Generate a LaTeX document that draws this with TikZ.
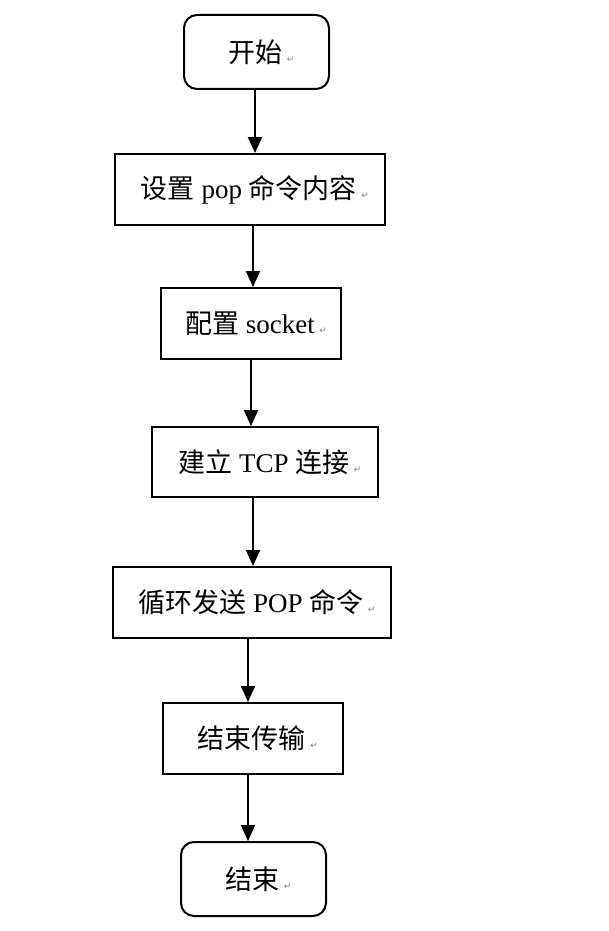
\documentclass[tikz,border=0pt]{standalone}
\usepackage{fontspec}
\setmainfont{Liberation Serif}
\newfontfamily\cjk{Noto Sans CJK SC}
\newfontfamily\markfont{DejaVu Sans}
\usetikzlibrary{arrows.meta}
\newcommand{\parmark}{\,{\markfont\fontsize{9}{9}\selectfont\color{gray}↵}}

\tikzset{
  flowbox/.style={draw,line width=2pt,inner sep=0pt,font=\fontsize{27}{27}\selectfont,
    execute at begin node={\hspace{10pt}}},
  endbox/.style={flowbox,rounded corners=13pt},
  flowarrow/.style={line width=2pt,-{Triangle[width=14pt,length=16pt]}}
}

\begin{document}
\begin{tikzpicture}[x=1pt,y=-1pt]
  \useasboundingbox (0,0) rectangle (608,931);

  \node[endbox,minimum width=145pt,minimum height=74pt] (start) at (256.5,52) {{\cjk 开始}\parmark};
  \node[flowbox,minimum width=270pt,minimum height=71pt] (setcmd) at (250,189.5) {{\cjk 设置} pop {\cjk 命令内容}\parmark};
  \node[flowbox,minimum width=180pt,minimum height=71pt] (socket) at (251,323.5) {{\cjk 配置} socket\parmark};
  \node[flowbox,minimum width=226pt,minimum height=70pt] (tcp) at (265,462) {{\cjk 建立} TCP {\cjk 连接}\parmark};
  \node[flowbox,minimum width=278pt,minimum height=71pt] (loop) at (252,602.5) {{\cjk 循环发送} POP {\cjk 命令}\parmark};
  \node[flowbox,minimum width=180pt,minimum height=71pt] (close) at (253,738.5) {{\cjk 结束传输}\parmark};
  \node[endbox,minimum width=145pt,minimum height=74pt] (stop) at (253.5,879) {{\cjk 结束}\parmark};

  % arrows between the steps
  \draw[flowarrow] ([xshift=-1.5pt]start.south) -- ([xshift=-1.5pt]start.south |- setcmd.north);
  \draw[flowarrow] ([xshift=3pt]setcmd.south) -- ([xshift=3pt]setcmd.south |- socket.north);
  \draw[flowarrow] (socket.south) -- (socket.south |- tcp.north);
  \draw[flowarrow] ([xshift=-12pt]tcp.south) -- ([xshift=-12pt]tcp.south |- loop.north);
  \draw[flowarrow] ([xshift=-4pt]loop.south) -- ([xshift=-4pt]loop.south |- close.north);
  \draw[flowarrow] ([xshift=-5pt]close.south) -- ([xshift=-5pt]close.south |- stop.north);
\end{tikzpicture}
\end{document}
